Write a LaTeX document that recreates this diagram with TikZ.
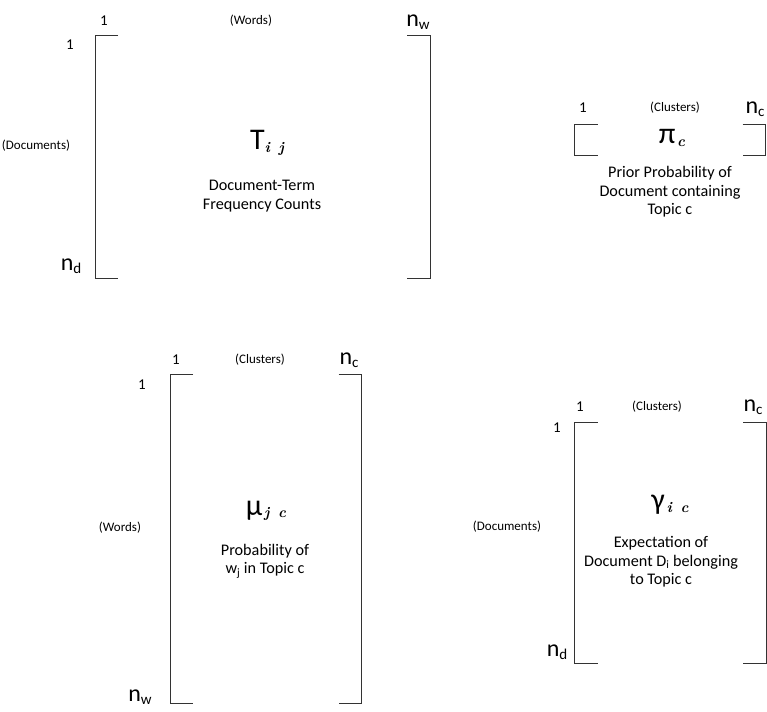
\documentclass[tikz,border=0pt]{standalone}
\usepackage{fontspec}
\setmainfont{Carlito}
\newfontfamily\subfont{Latin Modern Roman}
\newcommand{\mysubit}[1]{\raisebox{-2.5pt}{\fontsize{15}{15}\selectfont\subfont\bfseries\itshape #1}}
\newcommand{\nsub}[2]{{\fontsize{24}{24}\selectfont #1}\raisebox{-3pt}{\fontsize{15}{15}\selectfont #2}}
\begin{document}
\begin{tikzpicture}[x=1pt,y=-1pt,
  brk/.style={line width=0.9pt,draw=black!80},
  small/.style={font=\fontsize{13}{15}\selectfont,inner sep=0pt},
  idx/.style={font=\fontsize{15}{16}\selectfont,inner sep=0pt},
  big/.style={inner sep=0pt},
  desc/.style={font=\fontsize{16.2}{18.5}\selectfont,align=center,inner sep=0pt}]
\useasboundingbox[fill=white] (0,0) rectangle (767,711);
% ---------- Matrix T
\coordinate (t1) at (95,35); \coordinate (t2) at (95,278);
\coordinate (t3) at (430,35); \coordinate (t4) at (430,278);
\draw[brk] ([xshift=23]t1) -- (t1) -- (t2) -- ([xshift=23]t2);
\draw[brk] ([xshift=-23]t3) -- (t3) -- (t4) -- ([xshift=-23]t4);
\node[idx] (tone) at (104,21) {1};
\node[small] (twords) at (251,21) {(Words)};
\node[big] (tnw) at (418,22) {\nsub{n}{w}};
\node[idx] (tonel) at (70,45) {1};
\node[small] (tdocs) at (36,146) {(Documents)};
\node[big] (tnd) at (71,266) {\nsub{n}{d}};
\node[big] (tsym) at (267,143) {{\fontsize{30}{30}\selectfont T}\mysubit{i\, j}};
\node[desc] (tdesc) at (262,196) {Document-Term\\Frequency Counts};
% ---------- Matrix pi
\coordinate (p1) at (574.5,124); \coordinate (p2) at (574.5,155);
\coordinate (p3) at (765.5,124); \coordinate (p4) at (765.5,155);
\draw[brk] ([xshift=23]p1) -- (p1) -- (p2) -- ([xshift=23]p2);
\draw[brk] ([xshift=-23]p3) -- (p3) -- (p4) -- ([xshift=-23]p4);
\node[idx] (pone) at (583,108) {1};
\node[small] (pclus) at (675,108) {(Clusters)};
\node[big] (pnc) at (755,109) {\nsub{n}{c}};
\node[big] (psym) at (672,138) {{\fontsize{30}{30}\selectfont π}\,\mysubit{c}};
\node[desc] (pdesc) at (670,192) {Prior Probability of\\Document containing\\Topic c};
% ---------- Matrix mu
\coordinate (m1) at (170,374); \coordinate (m2) at (170,703);
\coordinate (m3) at (361.5,374); \coordinate (m4) at (361.5,703);
\draw[brk] ([xshift=23]m1) -- (m1) -- (m2) -- ([xshift=23]m2);
\draw[brk] ([xshift=-23]m3) -- (m3) -- (m4) -- ([xshift=-23]m4);
\node[idx] (mone) at (176,360) {1};
\node[small] (mclus) at (260,360) {(Clusters)};
\node[big] (mnc) at (349,360) {\nsub{n}{c}};
\node[idx] (monel) at (142,385) {1};
\node[small] (mwords) at (120,528) {(Words)};
\node[big] (mnw) at (140,697) {\nsub{n}{w}};
\node[big] (msym) at (266,511) {{\fontsize{30}{30}\selectfont μ}\,\mysubit{j\, c}};
\node[desc] (mdesc) at (265,561) {Probability of\\w\textsubscript{j} in Topic c};
% ---------- Matrix gamma
\coordinate (g1) at (574.5,422); \coordinate (g2) at (574.5,663);
\coordinate (g3) at (766,422); \coordinate (g4) at (766,663);
\draw[brk] ([xshift=23]g1) -- (g1) -- (g2) -- ([xshift=23]g2);
\draw[brk] ([xshift=-23]g3) -- (g3) -- (g4) -- ([xshift=-23]g4);
\node[idx] (gone) at (580,407) {1};
\node[small] (gclus) at (657,407) {(Clusters)};
\node[big] (gnc) at (753,407) {\nsub{n}{c}};
\node[idx] (gonel) at (557,428) {1};
\node[small] (gdocs) at (507,527) {(Documents)};
\node[big] (gnd) at (557,652) {\nsub{n}{d}};
\node[big] (gsym) at (670,505) {{\fontsize{30}{30}\selectfont γ}\,\mysubit{i\, c}};
\node[desc] (gdesc) at (661,562) {Expectation of\\Document D\textsubscript{i} belonging\\to Topic c};
\end{tikzpicture}
\end{document}
